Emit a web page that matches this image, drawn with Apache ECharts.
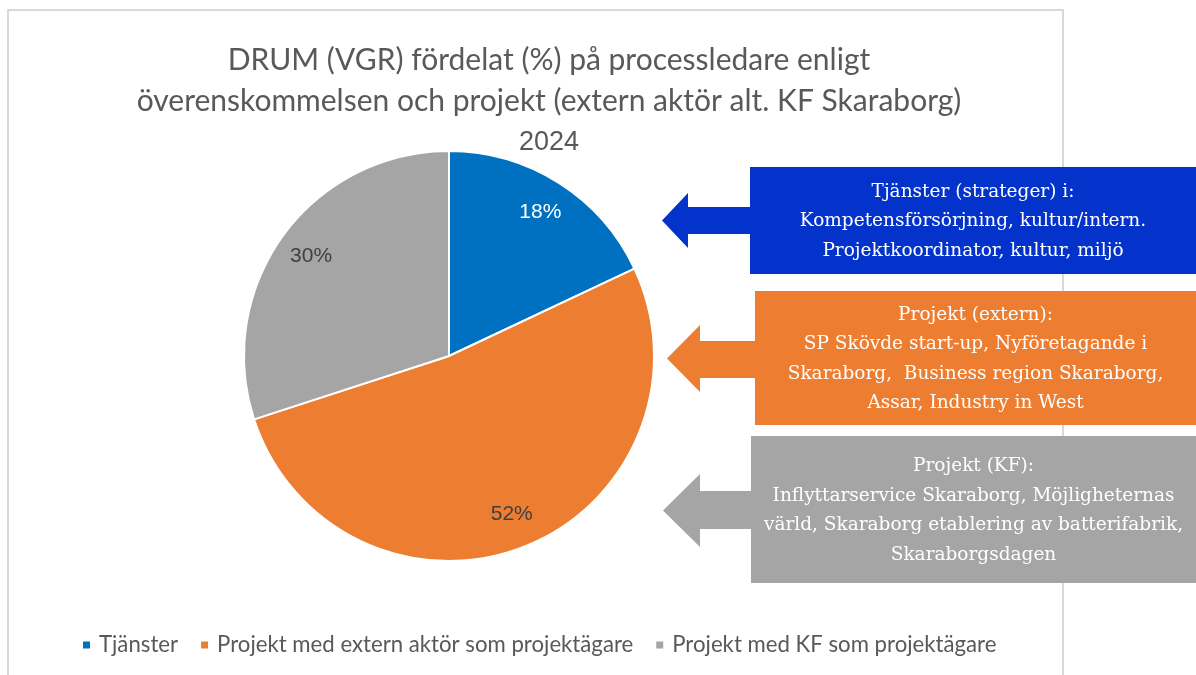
<!DOCTYPE html>
<html>
<head>
<meta charset="utf-8">
<script src="https://cdn.jsdelivr.net/npm/echarts@6/dist/echarts.min.js"></script>
<style>
  html, body { margin: 0; padding: 0; background: #fff; }
  #chart { width: 1196px; height: 675px; }
</style>
</head>
<body>
<div id="chart"></div>
<script>
// data
const categories = ["Tjänster", "Projekt med extern aktör som projektägare", "Projekt med KF som projektägare"];
const shares = [18, 52, 30];
const titleLines = [
  "DRUM (VGR) fördelat (%) på processledare enligt",
  "överenskommelsen och projekt (extern aktör alt. KF Skaraborg)"
];
const titleYear = "2024";
const calloutTexts = [
  ["Tjänster (strateger) i:", "Kompetensförsörjning, kultur/intern.", "Projektkoordinator, kultur, miljö"],
  ["Projekt (extern):", "SP Skövde start-up, Nyföretagande i", "Skaraborg,  Business region Skaraborg,", "Assar, Industry in West"],
  ["Projekt (KF):", "Inflyttarservice Skaraborg, Möjligheternas", "värld, Skaraborg etablering av batterifabrik,", "Skaraborgsdagen"]
];

const sliceColors = ["#0070C0", "#ED7D31", "#A5A5A5"];
const labelColors = ["#ffffff", "#404040", "#404040"];
const boxColors = ["#0433CC", "#ED7D31", "#A5A5A5"];

// callout boxes: [left, top, bottom, tipX, headBackX, headTop, headBottom, shaftTop, shaftBottom]
const boxes = [
  [750, 167, 274, 662, 688, 193, 248, 207, 234],
  [755, 291, 425, 667, 700, 325, 392, 341, 378],
  [751, 436, 583, 663, 700, 474, 547, 491, 529]
];

const pieData = categories.map((name, i) => ({
  name: name,
  value: shares[i],
  itemStyle: { color: sliceColors[i] }
}));

const labelData = categories.map((name, i) => ({
  name: name,
  value: shares[i],
  label: { color: labelColors[i] }
}));

const graphics = [
  {
    type: "rect",
    shape: { x: 8, y: 10, width: 1055, height: 680 },
    style: { fill: "none", stroke: "#D9D9D9", lineWidth: 2 },
    silent: true,
    z: -1
  }
];

boxes.forEach((b, i) => {
  const [left, top, bottom, tip, back, hTop, hBot, sTop, sBot] = b;
  const cy = (hTop + hBot) / 2;
  graphics.push({
    type: "polygon",
    shape: {
      points: [[tip, cy], [back, hTop], [back, sTop], [left + 1, sTop], [left + 1, sBot], [back, sBot], [back, hBot]]
    },
    style: { fill: boxColors[i] },
    silent: true
  });
  graphics.push({
    type: "rect",
    shape: { x: left, y: top, width: 1196 - left, height: bottom - top },
    style: { fill: boxColors[i] },
    silent: true
  });
  graphics.push({
    type: "text",
    x: (left + 1196) / 2,
    y: (top + bottom) / 2 + 1,
    style: {
      text: calloutTexts[i].join("\n"),
      fill: "#ffffff",
      font: '18.5px "DejaVu Serif"',
      align: "center",
      verticalAlign: "middle",
      lineHeight: 29.5
    },
    silent: true
  });
});

const chart = echarts.init(document.getElementById("chart"));
chart.setOption({
  backgroundColor: "#ffffff",
  animation: false,
  title: {
    text: titleLines.join("\n") + "\n{y|" + titleYear + "}",
    left: 544,
    top: 35,
    textAlign: "center",
    textStyle: {
      fontFamily: "Lato",
      fontSize: 30,
      fontWeight: "normal",
      color: "#595959",
      lineHeight: 41,
      rich: {
        y: { fontFamily: "Liberation Sans", fontSize: 27, color: "#595959", lineHeight: 41 }
      }
    }
  },
  legend: {
    data: categories,
    left: 76,
    top: 629,
    icon: "rect",
    itemWidth: 9,
    itemHeight: 9,
    itemGap: 21,
    textStyle: { fontFamily: "Lato", fontSize: 22.2, color: "#595959", padding: [0, 0, 0, 3] }
  },
  graphic: graphics,
  series: [
    {
      name: "DRUM",
      type: "pie",
      center: [449, 356],
      radius: 205,
      startAngle: 90,
      clockwise: true,
      silent: true,
      label: { show: false },
      labelLine: { show: false },
      itemStyle: { borderColor: "#ffffff", borderWidth: 2 },
      data: pieData
    },
    {
      // transparent ring only to place the percent labels near the rim
      name: "labels",
      type: "pie",
      center: [449, 356],
      radius: [130, 205],
      startAngle: 90,
      clockwise: true,
      silent: true,
      itemStyle: { color: "rgba(0,0,0,0)" },
      label: {
        show: true,
        position: "inside",
        formatter: "{c}%",
        fontFamily: "Liberation Sans",
        fontSize: 21
      },
      labelLine: { show: false },
      data: labelData
    }
  ]
});
</script>
</body>
</html>
